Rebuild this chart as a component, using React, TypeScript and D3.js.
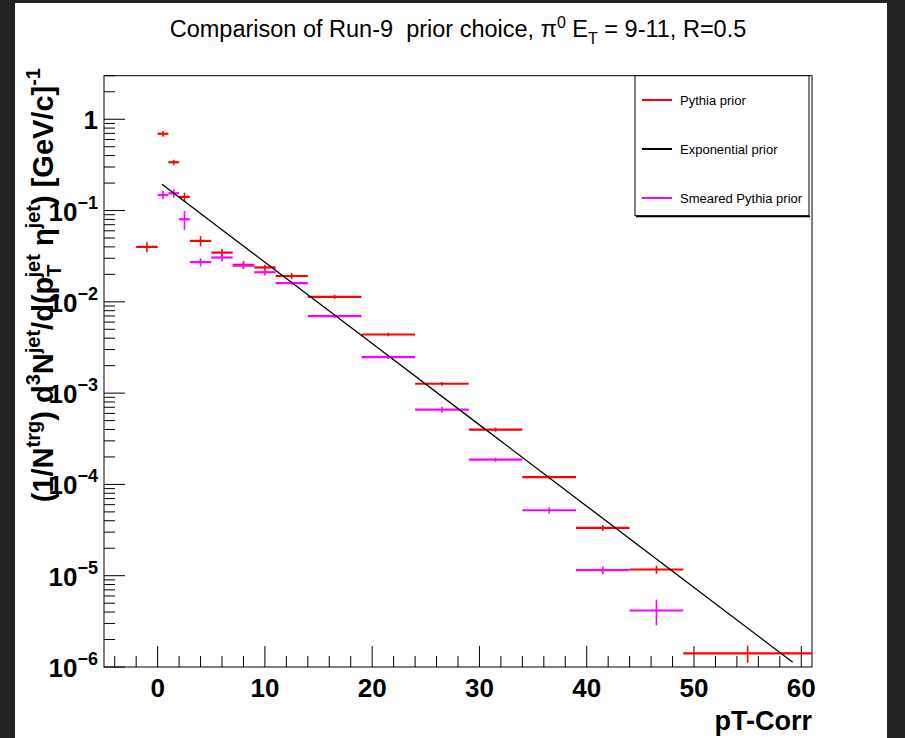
import React from "react";
import * as d3 from "d3";

// ---- data ----
const binLo = [-2, 0, 1, 2, 3, 5, 7, 9, 11, 14, 19, 24, 29, 34, 39, 44, 49];
const binHi = [0, 1, 2, 3, 5, 7, 9, 11, 14, 19, 24, 29, 34, 39, 44, 49, 61];
const binCenter = [-1, 0.5, 1.5, 2.5, 4, 6, 8, 10, 12.5, 16.5, 21.5, 26.5, 31.5, 36.5, 41.5, 46.5, 55];

const pythiaPrior = [0.04, 0.694, 0.338, 0.141, 0.0465, 0.0346, 0.0254, 0.0238, 0.0192, 0.01135, 0.00439, 0.001267, 0.000398, 0.00012, 3.34e-5, 1.17e-5, 1.41e-6];
const pythiaErr = [0.005, 0.05, 0.022, 0.016, 0.006, 0.0035, 0.0025, 0.0017, 0.0015, 0.0006, 0.0002, 6e-5, 2e-5, 6e-6, 2.5e-6, 1.2e-6, 0.3e-6];

const smearedPrior = [null, 0.148, 0.1546, 0.0803, 0.0272, 0.0306, 0.0249, 0.0211, 0.016, 0.00698, 0.00248, 0.000658, 0.000187, 5.21e-5, 1.15e-5, 4.16e-6, null];
const smearedErr = [null, 0.015, 0.016, 0.019, 0.0028, 0.003, 0.0019, 0.0017, 0.0008, 0.00035, 0.00013, 5e-5, 1e-5, 4e-6, 1.1e-6, 1.3e-6, null];

const expX = [0.4, 10, 20, 30, 40, 50, 59.2];
const expY = [0.194, 0.0271, 0.00349, 4.49e-4, 5.78e-5, 7.41e-6, 1.13e-6];

const xTicks = [0, 10, 20, 30, 40, 50, 60];
const yDecades = [0, -1, -2, -3, -4, -5, -6];

const legendItems = ["Pythia prior", "Exponential prior", "Smeared Pythia prior"];
const legendColors = ["#ff0000", "#000000", "#ff00ff"];

// ---- layout ----
const W = 905, H = 738;
const L = 104, R = 812, T = 75.7, B = 667;

export default function App() {
  const x = d3.scaleLinear().domain([-5, 61]).range([L, R]);
  const y = d3.scaleLog().domain([1e-6, 3]).range([B, T]);

  const xMinor = d3.range(-4, 61, 2).filter((v) => v % 10 !== 0);
  const yMinor: number[] = [];
  for (let e = -6; e <= 0; e++) {
    for (let m = 2; m <= 9; m++) {
      const v = m * Math.pow(10, e);
      if (v <= 3) yMinor.push(v);
    }
  }

  const line = d3
    .line<number>()
    .x((_, i) => x(expX[i]))
    .y((d) => y(d));

  const font = "'Liberation Sans', Arial, Helvetica, sans-serif";

  const drawSeries = (vals: (number | null)[], errs: (number | null)[], color: string, key: string) =>
    vals.map((v, i) => {
      if (v == null) return null;
      const e = errs[i] as number;
      const x0 = Math.max(x(binLo[i]), L);
      const x1 = Math.min(x(binHi[i]), R);
      const cx = x(binCenter[i]);
      const cy = y(v);
      return (
        <g key={key + i}>
          <line x1={x0} x2={x1} y1={cy} y2={cy} stroke={color} strokeWidth={2.2} />
          <line x1={cx} x2={cx} y1={y(v + e)} y2={y(Math.max(v - e, 1e-7))} stroke={color} strokeWidth={1.6} />
        </g>
      );
    });

  const sup = 13;
  return (
    <svg width={W} height={H} style={{ position: "absolute", left: 0, top: 0 }} fontFamily={font}>
      <rect x={0} y={0} width={W} height={H} fill="#232323" />
      <rect x={15} y={3} width={872} height={H - 3} fill="#ffffff" />

      {/* title */}
      <text x={458} y={37} textAnchor="middle" fontSize={23.5} fill="#000" style={{ whiteSpace: "pre" }}>
        {"Comparison of Run-9\u00A0 prior choice, π"}
        <tspan dy={-9} fontSize={16}>0</tspan>
        <tspan dy={9}> E</tspan>
        <tspan dy={7} fontSize={16}>T</tspan>
        <tspan dy={-7}> = 9-11, R=0.5</tspan>
      </text>

      {/* frame */}
      <rect x={L} y={T} width={R - L} height={B - T} fill="none" stroke="#000" strokeWidth={1} />

      {/* x ticks */}
      {xTicks.map((t) => (
        <line key={"xt" + t} x1={x(t)} x2={x(t)} y1={B} y2={B - 21} stroke="#000" />
      ))}
      {xMinor.map((t) => (
        <line key={"xm" + t} x1={x(t)} x2={x(t)} y1={B} y2={B - 11} stroke="#000" />
      ))}
      {xTicks.map((t) => (
        <text key={"xl" + t} x={x(t)} y={B + 30} textAnchor="middle" fontSize={26} fontWeight="bold">
          {t}
        </text>
      ))}
      <text x={R} y={730} textAnchor="end" fontSize={27} fontWeight="bold">
        pT-Corr
      </text>

      {/* y ticks */}
      {yDecades.map((e) => (
        <line key={"yt" + e} x1={L} x2={L + 21} y1={y(Math.pow(10, e))} y2={y(Math.pow(10, e))} stroke="#000" />
      ))}
      {yMinor.map((v, i) => (
        <line key={"ym" + i} x1={L} x2={L + 11} y1={y(v)} y2={y(v)} stroke="#000" />
      ))}
      {yDecades.map((e) => {
        const yy = y(Math.pow(10, e));
        if (e === 0)
          return (
            <text key={"yl" + e} x={98} y={yy + 10} textAnchor="end" fontSize={26} fontWeight="bold">
              1
            </text>
          );
        return (
          <text key={"yl" + e} x={98} y={yy + 10} textAnchor="end" fontSize={26} fontWeight="bold">
            10
            <tspan dy={-12} fontSize={18}>{"−" + -e}</tspan>
          </text>
        );
      })}

      {/* y title */}
      <text transform="translate(53,68) rotate(-90)" textAnchor="end" fontSize={29} fontWeight="bold">
        (1/N<tspan dy={-sup} fontSize={20}>trg</tspan>
        <tspan dy={sup}>) d</tspan>
        <tspan dy={-sup} fontSize={20}>3</tspan>
        <tspan dy={sup}>N</tspan>
        <tspan dy={-sup} fontSize={20}>jet</tspan>
        <tspan dy={sup}>/d(p</tspan>
        <tspan dy={8} fontSize={20}>T</tspan>
        <tspan dx={-13} dy={-8 - sup} fontSize={20}>jet</tspan>
        <tspan dy={sup}> η</tspan>
        <tspan dy={-sup} fontSize={20}>jet</tspan>
        <tspan dy={sup}>) [GeV/c]</tspan>
        <tspan dy={-sup} fontSize={20}>-1</tspan>
      </text>

      {/* data */}
      <g>{drawSeries(pythiaPrior, pythiaErr, "#ff0000", "p")}</g>
      <g>{drawSeries(smearedPrior, smearedErr, "#ff00ff", "s")}</g>
      <path d={line(expY) || ""} fill="none" stroke="#000" strokeWidth={1.3} />

      {/* legend */}
      <rect x={635} y={T} width={174} height={140} fill="#fff" stroke="#000" strokeWidth={1} />
      <line x1={636} x2={810} y1={216.5} y2={216.5} stroke="#000" strokeWidth={1.5} />
      {legendItems.map((name, i) => {
        const yy = 100 + i * 49;
        return (
          <g key={name}>
            <line x1={642} x2={672} y1={yy} y2={yy} stroke={legendColors[i]} strokeWidth={2} />
            <text x={680} y={yy + 4.5} fontSize={13} fill="#000">
              {name}
            </text>
          </g>
        );
      })}
    </svg>
  );
}
